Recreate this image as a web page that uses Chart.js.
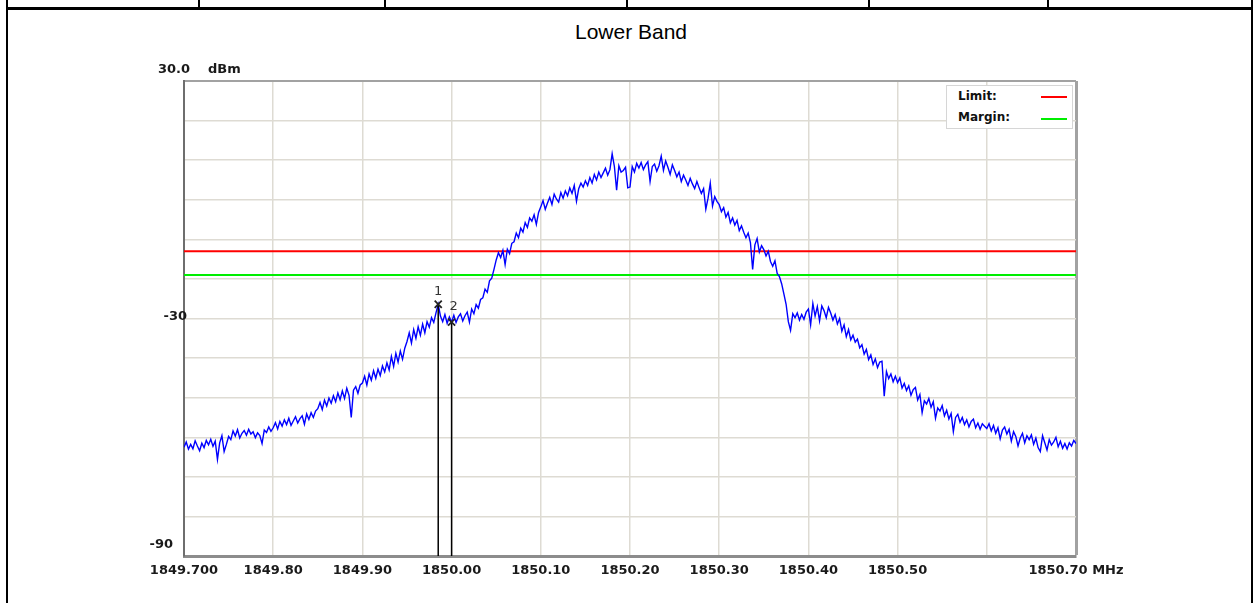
<!DOCTYPE html>
<html lang="en">
<head>
    <meta charset="UTF-8">
    <title>Lower Band</title>
    <style>
        body { margin: 0; background: #fff; font-family: "Liberation Sans", Arial, sans-serif; }
        #page { position: relative; width: 1259px; height: 603px; overflow: hidden; }
        .rule { position: absolute; background: #000; }
        #title { position: absolute; left: 0; top: 19px; width: 1262px; text-align: center; font-size: 21px; line-height: 26px; color: #000; }
        #chart-box { position: absolute; left: 0; top: 40px; width: 1259px; height: 563px; }
        #legend { position: absolute; left: 946px; top: 85px; width: 125px; height: 42px; border: 1px solid #d6d6d6; background: #fff;
                  font: bold 12px "DejaVu Sans", sans-serif; color: #111; }
        #legend div { position: absolute; left: 11px; }
        #legend span { position: absolute; left: 94px; width: 26px; height: 2px; }
    </style>
</head>
<body>
<div id="page">
    <!-- table frame around the chart cell -->
    <div class="rule" style="left:6px;top:0;width:2px;height:603px"></div>
    <div class="rule" style="left:1251px;top:0;width:2px;height:603px"></div>
    <div class="rule" style="left:6px;top:7px;width:1247px;height:3px"></div>
    <div class="rule" style="left:198px;top:0;width:2px;height:8px"></div>
    <div class="rule" style="left:384px;top:0;width:2px;height:8px"></div>
    <div class="rule" style="left:626px;top:0;width:2px;height:8px"></div>
    <div class="rule" style="left:868px;top:0;width:2px;height:8px"></div>
    <div class="rule" style="left:1047px;top:0;width:2px;height:8px"></div>

    <div id="title">Lower Band</div>

    <div id="chart-box">
        <canvas id="spectrum" width="1259" height="563"></canvas>
    </div>

    <div id="legend">
        <div style="top:3px">Limit:</div><span style="top:10px;background:#ff0000"></span>
        <div style="top:24px">Margin:</div><span style="top:32px;background:#00ee00"></span>
    </div>
</div>

<script src="https://cdn.jsdelivr.net/npm/chart.js"></script>
<script>
    // sweep: 401 points, 1849.70 .. 1850.70 MHz
    const traceStartMHz = 1849.70;
    const traceStepMHz = 0.0025;
    const traceDbm = [
        -62.5,-61.2,-63.0,-61.8,-62.9,-60.9,-62.2,-63.4,-61.5,-62.6,-60.8,-61.9,-60.5,-62.3,-61.0,-65.6,-61.4,-59.6,-63.6,-61.8,
        -59.8,-60.6,-58.4,-59.7,-58.1,-60.2,-59.0,-58.3,-59.5,-58.0,-59.2,-58.6,-60.1,-58.9,-59.6,-61.6,-58.2,-58.8,-57.4,-58.5,
        -57.6,-56.3,-57.9,-56.0,-57.2,-55.6,-56.8,-55.2,-57.0,-55.9,-54.8,-56.4,-55.3,-54.6,-56.7,-54.1,-55.5,-53.8,-55.0,-53.4,
        -52.8,-51.2,-53.0,-50.6,-52.1,-50.1,-51.4,-49.5,-51.0,-48.8,-50.5,-48.3,-50.2,-47.6,-49.4,-55.0,-48.1,-47.2,-48.9,-46.8,
        -46.3,-44.6,-46.8,-44.0,-45.6,-43.2,-45.1,-42.8,-44.4,-42.0,-43.5,-41.2,-43.0,-39.6,-42.1,-38.8,-41.0,-38.2,-40.3,-37.5,
        -35.8,-33.6,-36.2,-32.8,-35.0,-32.1,-34.2,-31.4,-33.6,-30.8,-32.2,-29.8,-31.0,-28.6,-26.4,-29.4,-30.8,-29.0,-31.2,-29.6,
        -30.9,-29.2,-31.0,-29.6,-28.8,-30.6,-29.3,-28.4,-30.9,-27.6,-28.8,-26.5,-27.4,-25.2,-24.8,-22.6,-23.4,-20.5,-19.8,-17.6,
        -15.2,-13.4,-14.6,-12.8,-16.4,-12.5,-13.6,-11.0,-10.6,-8.4,-9.6,-7.2,-8.2,-5.8,-7.0,-4.6,-5.4,-3.8,-6.2,-3.2,
        -1.8,-0.2,-2.4,-0.8,0.6,-1.2,1.4,0.2,-0.6,1.8,0.4,2.2,1.0,3.0,1.6,3.6,-0.4,2.8,4.2,3.2,
        4.8,3.6,5.6,4.2,6.4,5.0,7.0,5.6,6.8,8.0,6.2,7.6,11.6,8.4,2.4,8.6,7.0,7.4,8.2,3.0,
        3.2,8.4,7.0,9.2,8.0,9.4,7.6,8.8,9.6,4.6,8.4,9.0,7.2,8.6,11.0,7.4,9.8,8.2,6.4,8.8,
        7.4,5.8,7.0,4.6,6.2,5.0,3.6,5.4,4.0,2.8,4.6,3.0,1.6,2.8,-2.4,0.4,4.2,-1.6,0.8,-0.4,
        -1.2,-3.0,-2.0,-4.4,-3.2,-5.8,-4.6,-6.4,-5.2,-7.8,-6.6,-8.2,-9.6,-8.4,-10.8,-17.6,-11.4,-9.8,-13.2,-11.6,
        -12.6,-14.2,-13.0,-15.6,-16.8,-15.4,-18.6,-19.4,-21.2,-23.8,-26.4,-30.8,-33.0,-28.8,-29.8,-28.6,-30.4,-29.0,-30.2,-28.4,
        -27.6,-31.6,-26.2,-29.4,-27.0,-30.6,-26.8,-28.0,-29.8,-27.2,-28.6,-30.4,-29.0,-31.4,-30.0,-33.2,-31.6,-34.6,-32.8,-35.4,
        -34.2,-36.0,-35.2,-37.4,-36.6,-39.0,-37.8,-40.4,-39.2,-41.6,-40.2,-42.4,-41.0,-40.8,-49.6,-43.4,-45.2,-44.0,-46.0,-44.6,
        -46.2,-45.0,-47.6,-46.4,-48.2,-47.0,-49.4,-48.0,-47.4,-50.6,-49.2,-53.8,-50.8,-51.6,-50.2,-52.4,-51.0,-55.2,-52.6,-53.4,
        -52.0,-54.6,-53.2,-55.4,-54.0,-58.6,-55.0,-54.2,-56.2,-55.0,-56.8,-55.6,-57.4,-56.0,-55.4,-57.6,-56.4,-58.0,-56.6,-57.2,
        -57.8,-56.6,-58.4,-57.0,-59.0,-57.6,-60.4,-58.2,-57.4,-59.2,-58.0,-61.0,-58.6,-59.8,-62.2,-60.2,-59.0,-61.4,-59.6,-60.6,
        -59.4,-61.8,-60.2,-62.6,-63.6,-59.6,-61.4,-63.2,-60.6,-62.0,-61.2,-60.0,-62.4,-61.0,-62.8,-61.6,-63.0,-61.4,-62.2,-60.8,-61.6
    ];

    const limitDbm = -13;
    const marginDbm = -19;

    const markerNames = ['1', '2'];
    const markerFreqs = [1849.985, 1850.000];
    const markerLevels = [-26.4, -30.9];

    const xTickValues = [1849.70, 1849.80, 1849.90, 1850.00, 1850.10, 1850.20, 1850.30, 1850.40, 1850.50, 1850.60, 1850.70];
    const xTickLabels = ['1849.700', '1849.80', '1849.90', '1850.00', '1850.10', '1850.20', '1850.30', '1850.40', '1850.50', '', '1850.70 MHz'];
    const yMin = -90, yMax = 30, yStep = 10;
    const yLabelValues = [30, -30, -90];
    const yLabelTexts = ['30.0', '-30', '-90'];
    const yUnit = 'dBm';

    const xMin = xTickValues[0], xMax = xTickValues[xTickValues.length - 1];
    const tracePoints = traceDbm.map((v, i) => ({ x: traceStartMHz + i * traceStepMHz, y: v }));

    const edgeGrid = '#a2a2a2', innerGrid = '#dedbd3';
    const labelFont = 'bold 13px "DejaVu Sans", sans-serif';

    // y labels, unit and marker numbers are drawn on top of the plot
    const annotate = {
        id: 'annotate',
        afterDatasetsDraw(chart) {
            const { ctx, chartArea, scales } = chart;
            const y = scales.y, x = scales.x;
            ctx.save();
            ctx.font = labelFont;
            ctx.fillStyle = '#1a1a1a';
            ctx.textBaseline = 'middle';
            ctx.textAlign = 'right';
            const shifts = { '30.0': [6, -11], '-30': [3, -2], '-90': [-11, -11] };
            yLabelValues.forEach((v, i) => {
                const s = shifts[yLabelTexts[i]] || [0, 0];
                ctx.fillText(yLabelTexts[i], chartArea.left + s[0], y.getPixelForValue(v) + s[1]);
            });
            ctx.textAlign = 'left';
            ctx.fillText(yUnit, chartArea.left + 24, y.getPixelForValue(yMax) - 11);

            ctx.font = '13px "DejaVu Sans", sans-serif';
            ctx.fillStyle = '#333';
            ctx.textAlign = 'center';
            markerNames.forEach((n, i) => {
                const px = x.getPixelForValue(markerFreqs[i]) + (i === 1 ? 2 : 0);
                const py = y.getPixelForValue(markerLevels[i]) - (i === 1 ? 15 : 13);
                ctx.fillText(n, px, py);
            });
            ctx.restore();
        }
    };

    const markerSets = markerFreqs.map((f, i) => ({
        data: [{ x: f, y: markerLevels[i] }, { x: f, y: yMin }],
        borderColor: '#000',
        borderWidth: 1.5,
        pointStyle: 'crossRot',
        pointRadius: [5, 0],
        pointBorderColor: '#222',
        pointBorderWidth: 1.8
    }));

    new Chart(document.getElementById('spectrum'), {
        type: 'line',
        data: {
            datasets: [
                ...markerSets,
                {
                    label: 'Trace',
                    data: tracePoints,
                    borderColor: '#0000ff',
                    borderWidth: 1.4,
                    pointRadius: 0
                },
                {
                    label: 'Limit',
                    data: [{ x: xMin, y: limitDbm }, { x: xMax, y: limitDbm }],
                    borderColor: '#ff0000',
                    borderWidth: 2,
                    pointRadius: 0
                },
                {
                    label: 'Margin',
                    data: [{ x: xMin, y: marginDbm }, { x: xMax, y: marginDbm }],
                    borderColor: '#00ee00',
                    borderWidth: 2,
                    pointRadius: 0
                }
            ]
        },
        options: {
            responsive: false,
            animation: false,
            devicePixelRatio: 1,
            layout: { padding: { top: 41, right: 183, bottom: 0, left: 0 } },
            plugins: { legend: { display: false }, tooltip: { enabled: false } },
            elements: { line: { tension: 0 } },
            scales: {
                x: {
                    type: 'linear',
                    min: xMin,
                    max: xMax,
                    afterBuildTicks: s => { s.ticks = xTickValues.map(v => ({ value: v })); },
                    afterFit: s => { s.height = 47; },
                    ticks: {
                        autoSkip: false,
                        maxRotation: 0,
                        padding: 7,
                        font: { family: '"DejaVu Sans", sans-serif', size: 13, weight: 'bold' },
                        color: '#1a1a1a',
                        callback: (v, i) => xTickLabels[i]
                    },
                    grid: {
                        drawTicks: false,
                        color: c => (c.tick && Math.abs(c.tick.value - xMax) < 1e-6) ? edgeGrid : innerGrid,
                        lineWidth: c => (c.tick && Math.abs(c.tick.value - xMax) < 1e-6) ? 3 : 1.5
                    },
                    border: { color: '#8c8c8c', width: 3 }
                },
                y: {
                    min: yMin,
                    max: yMax,
                    ticks: { stepSize: yStep, display: false },
                    afterFit: s => { s.width = 184; },
                    grid: {
                        drawTicks: false,
                        color: c => (c.tick && c.tick.value === yMax) ? edgeGrid : innerGrid,
                        lineWidth: c => (c.tick && c.tick.value === yMax) ? 2 : 1.5
                    },
                    border: { color: '#6e6e6e', width: 2 }
                }
            }
        },
        plugins: [annotate]
    });
</script>
</body>
</html>
